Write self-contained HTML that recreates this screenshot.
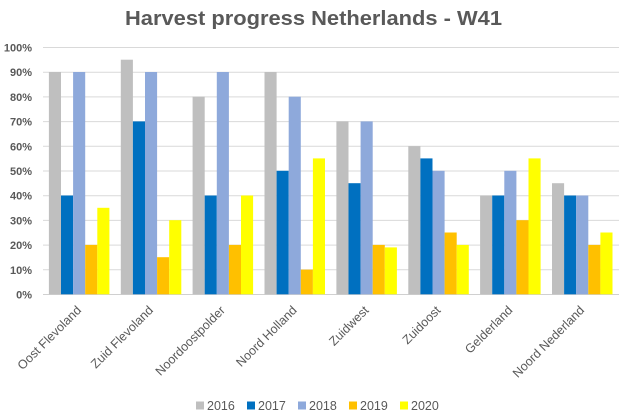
<!DOCTYPE html>
<html><head><meta charset="utf-8"><style>
html,body{margin:0;padding:0;background:#fff;}
svg{display:block;font-family:"Liberation Sans",sans-serif;}
</style></head><body>
<svg width="625" height="415" viewBox="0 0 625 415" xmlns="http://www.w3.org/2000/svg">
<rect width="625" height="415" fill="#fff"/>
<text x="313.5" y="25" text-anchor="middle" font-size="20" font-weight="bold" fill="#595959" textLength="377" lengthAdjust="spacingAndGlyphs">Harvest progress Netherlands - W41</text>
<g stroke="#D9D9D9" stroke-width="1">
<line x1="43" x2="619" y1="47.5" y2="47.5"/>
<line x1="43" x2="619" y1="72.2" y2="72.2"/>
<line x1="43" x2="619" y1="96.9" y2="96.9"/>
<line x1="43" x2="619" y1="121.6" y2="121.6"/>
<line x1="43" x2="619" y1="146.3" y2="146.3"/>
<line x1="43" x2="619" y1="171" y2="171"/>
<line x1="43" x2="619" y1="195.7" y2="195.7"/>
<line x1="43" x2="619" y1="220.4" y2="220.4"/>
<line x1="43" x2="619" y1="245.1" y2="245.1"/>
<line x1="43" x2="619" y1="269.8" y2="269.8"/>
</g>
<g font-size="11" font-weight="bold" fill="#595959" text-anchor="end">
<text x="32" y="51.5">100%</text>
<text x="32" y="76.2">90%</text>
<text x="32" y="100.9">80%</text>
<text x="32" y="125.6">70%</text>
<text x="32" y="150.3">60%</text>
<text x="32" y="175">50%</text>
<text x="32" y="199.7">40%</text>
<text x="32" y="224.4">30%</text>
<text x="32" y="249.1">20%</text>
<text x="32" y="273.8">10%</text>
<text x="32" y="298.5">0%</text>
</g>
<g id="bars"></g>
<line x1="43" x2="619" y1="294.5" y2="294.5" stroke="#D0D0D0" stroke-width="1"/>
<g font-size="12.5" fill="#595959" text-anchor="end">
<text transform="translate(82,311) rotate(-45)">Oost Flevoland</text>
<text transform="translate(153.9,311) rotate(-45)">Zuid Flevoland</text>
<text transform="translate(225.8,311) rotate(-45)">Noordoostpolder</text>
<text transform="translate(297.6,311) rotate(-45)">Noord Holland</text>
<text transform="translate(369.5,311) rotate(-45)">Zuidwest</text>
<text transform="translate(441.4,311) rotate(-45)">Zuidoost</text>
<text transform="translate(513.3,311) rotate(-45)">Gelderland</text>
<text transform="translate(585.1,311) rotate(-45)">Noord Nederland</text>
</g>
<g font-size="12.5" fill="#595959">
<rect x="196" y="401.5" width="8" height="8" fill="#BFBFBF"/><text x="207" y="410">2016</text>
<rect x="247" y="401.5" width="8" height="8" fill="#0070C0"/><text x="258" y="410">2017</text>
<rect x="298" y="401.5" width="8" height="8" fill="#8EA9DB"/><text x="309" y="410">2018</text>
<rect x="349" y="401.5" width="8" height="8" fill="#FFC000"/><text x="360" y="410">2019</text>
<rect x="400" y="401.5" width="8" height="8" fill="#FFFF00"/><text x="411" y="410">2020</text>
</g>
<!-- bars: y0=294.3, scale 2.47 px per % -->
<g>
<!-- Oost Flevoland 90,40,90,20,35 ; start 48.9 -->
<rect x="48.9" y="72.0" width="12.1" height="222.3" fill="#BFBFBF"/>
<rect x="61.0" y="195.5" width="12.1" height="98.8" fill="#0070C0"/>
<rect x="73.1" y="72.0" width="12.1" height="222.3" fill="#8EA9DB"/>
<rect x="85.2" y="244.9" width="12.1" height="49.4" fill="#FFC000"/>
<rect x="97.3" y="207.8" width="12.1" height="86.5" fill="#FFFF00"/>
<!-- Zuid Flevoland 95,70,90,15,30 ; start 120.8 -->
<rect x="120.8" y="59.7" width="12.1" height="234.6" fill="#BFBFBF"/>
<rect x="132.9" y="121.4" width="12.1" height="172.9" fill="#0070C0"/>
<rect x="145.0" y="72.0" width="12.1" height="222.3" fill="#8EA9DB"/>
<rect x="157.1" y="257.2" width="12.1" height="37.1" fill="#FFC000"/>
<rect x="169.2" y="220.2" width="12.1" height="74.1" fill="#FFFF00"/>
<!-- Noordoostpolder 80,40,90,20,40 ; start 192.6 -->
<rect x="192.6" y="96.7" width="12.1" height="197.6" fill="#BFBFBF"/>
<rect x="204.7" y="195.5" width="12.1" height="98.8" fill="#0070C0"/>
<rect x="216.8" y="72.0" width="12.1" height="222.3" fill="#8EA9DB"/>
<rect x="228.9" y="244.9" width="12.1" height="49.4" fill="#FFC000"/>
<rect x="241.0" y="195.5" width="12.1" height="98.8" fill="#FFFF00"/>
<!-- Noord Holland 90,50,80,10,55 ; start 264.5 -->
<rect x="264.5" y="72.0" width="12.1" height="222.3" fill="#BFBFBF"/>
<rect x="276.6" y="170.8" width="12.1" height="123.5" fill="#0070C0"/>
<rect x="288.7" y="96.7" width="12.1" height="197.6" fill="#8EA9DB"/>
<rect x="300.8" y="269.6" width="12.1" height="24.7" fill="#FFC000"/>
<rect x="312.9" y="158.4" width="12.1" height="135.9" fill="#FFFF00"/>
<!-- Zuidwest 70,45,70,20,19 ; start 336.4 -->
<rect x="336.4" y="121.4" width="12.1" height="172.9" fill="#BFBFBF"/>
<rect x="348.5" y="183.2" width="12.1" height="111.1" fill="#0070C0"/>
<rect x="360.6" y="121.4" width="12.1" height="172.9" fill="#8EA9DB"/>
<rect x="372.7" y="244.9" width="12.1" height="49.4" fill="#FFC000"/>
<rect x="384.8" y="247.4" width="12.1" height="46.9" fill="#FFFF00"/>
<!-- Zuidoost 60,55,50,25,20 ; start 408.3 -->
<rect x="408.3" y="146.1" width="12.1" height="148.2" fill="#BFBFBF"/>
<rect x="420.4" y="158.4" width="12.1" height="135.9" fill="#0070C0"/>
<rect x="432.5" y="170.8" width="12.1" height="123.5" fill="#8EA9DB"/>
<rect x="444.6" y="232.5" width="12.1" height="61.8" fill="#FFC000"/>
<rect x="456.7" y="244.9" width="12.1" height="49.4" fill="#FFFF00"/>
<!-- Gelderland 40,40,50,30,55 ; start 480.1 -->
<rect x="480.1" y="195.5" width="12.1" height="98.8" fill="#BFBFBF"/>
<rect x="492.2" y="195.5" width="12.1" height="98.8" fill="#0070C0"/>
<rect x="504.3" y="170.8" width="12.1" height="123.5" fill="#8EA9DB"/>
<rect x="516.4" y="220.2" width="12.1" height="74.1" fill="#FFC000"/>
<rect x="528.5" y="158.4" width="12.1" height="135.9" fill="#FFFF00"/>
<!-- Noord Nederland 45,40,40,20,25 ; start 552.0 -->
<rect x="552.0" y="183.2" width="12.1" height="111.1" fill="#BFBFBF"/>
<rect x="564.1" y="195.5" width="12.1" height="98.8" fill="#0070C0"/>
<rect x="576.2" y="195.5" width="12.1" height="98.8" fill="#8EA9DB"/>
<rect x="588.3" y="244.9" width="12.1" height="49.4" fill="#FFC000"/>
<rect x="600.4" y="232.5" width="12.1" height="61.8" fill="#FFFF00"/>
</g>
</svg>
</body></html>
